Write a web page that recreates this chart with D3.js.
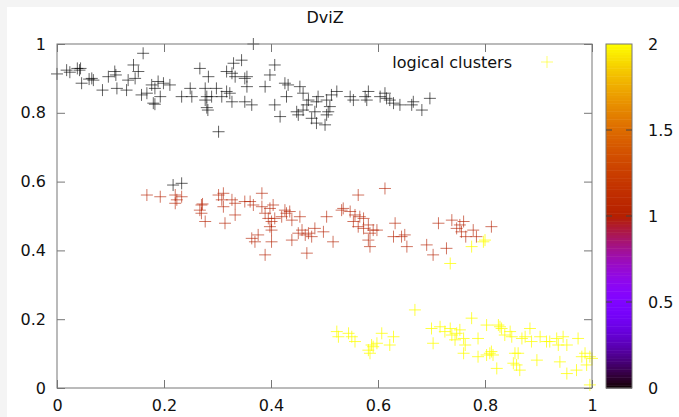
<!DOCTYPE html>
<html>
<head>
<meta charset="utf-8">
<script src="https://cdn.jsdelivr.net/npm/d3@7"></script>
<style>
  body { margin: 0; background: #f4f4f4; }
  text { font-family: "DejaVu Sans", sans-serif; font-size: 16px; fill: #111; }
  .axis path { display: none; }
  .axis line { stroke: #777; }
</style>
</head>
<body>
<svg width="679" height="417"></svg>
<script>
// cluster 0 (black), 1 (red), 2 (yellow): [x, y]
var blackPts = [[0.0,0.913],[0.018,0.924],[0.024,0.918],[0.038,0.929],[0.042,0.924],[0.044,0.929],[0.046,0.886],[0.065,0.9],[0.068,0.895],[0.06,0.898],[0.085,0.866],[0.096,0.905],[0.108,0.92],[0.112,0.871],[0.11,0.91],[0.13,0.866],[0.133,0.895],[0.143,0.939],[0.152,0.92],[0.161,0.973],[0.146,0.9],[0.158,0.852],[0.168,0.857],[0.177,0.881],[0.183,0.871],[0.189,0.891],[0.193,0.847],[0.18,0.828],[0.183,0.825],[0.199,0.886],[0.211,0.881],[0.233,0.847],[0.249,0.871],[0.252,0.847],[0.267,0.929],[0.283,0.905],[0.277,0.871],[0.28,0.847],[0.277,0.837],[0.282,0.808],[0.28,0.815],[0.289,0.847],[0.298,0.871],[0.302,0.745],[0.308,0.847],[0.317,0.862],[0.323,0.857],[0.327,0.832],[0.317,0.92],[0.33,0.944],[0.345,0.953],[0.327,0.915],[0.333,0.905],[0.351,0.9],[0.355,0.876],[0.351,0.832],[0.367,1.0],[0.407,0.939],[0.398,0.91],[0.355,0.905],[0.389,0.876],[0.364,0.823],[0.407,0.823],[0.417,0.789],[0.426,0.886],[0.432,0.881],[0.429,0.847],[0.454,0.876],[0.46,0.857],[0.448,0.803],[0.451,0.794],[0.46,0.808],[0.467,0.823],[0.47,0.837],[0.476,0.784],[0.482,0.803],[0.485,0.832],[0.488,0.847],[0.485,0.77],[0.501,0.765],[0.504,0.794],[0.507,0.803],[0.51,0.818],[0.504,0.837],[0.523,0.862],[0.513,0.852],[0.548,0.847],[0.554,0.837],[0.576,0.847],[0.582,0.862],[0.579,0.837],[0.604,0.847],[0.613,0.857],[0.616,0.842],[0.622,0.837],[0.629,0.828],[0.641,0.823],[0.663,0.823],[0.666,0.832],[0.682,0.808],[0.697,0.842],[0.217,0.59],[0.233,0.595]];

var redPts = [[0.168,0.561],[0.193,0.556],[0.221,0.561],[0.224,0.547],[0.233,0.556],[0.221,0.537],[0.27,0.532],[0.272,0.535],[0.267,0.517],[0.27,0.508],[0.277,0.484],[0.302,0.561],[0.311,0.566],[0.308,0.547],[0.311,0.527],[0.314,0.479],[0.327,0.547],[0.333,0.537],[0.333,0.503],[0.351,0.542],[0.361,0.542],[0.367,0.532],[0.383,0.566],[0.383,0.527],[0.389,0.508],[0.398,0.522],[0.404,0.532],[0.395,0.493],[0.401,0.484],[0.398,0.469],[0.401,0.459],[0.407,0.493],[0.42,0.498],[0.426,0.517],[0.429,0.508],[0.435,0.513],[0.439,0.488],[0.454,0.498],[0.364,0.435],[0.37,0.425],[0.376,0.445],[0.401,0.425],[0.389,0.387],[0.439,0.43],[0.451,0.45],[0.458,0.459],[0.464,0.445],[0.47,0.45],[0.476,0.44],[0.467,0.392],[0.482,0.464],[0.613,0.58],[0.563,0.561],[0.535,0.522],[0.532,0.517],[0.504,0.498],[0.498,0.454],[0.516,0.425],[0.548,0.513],[0.557,0.503],[0.566,0.498],[0.573,0.493],[0.554,0.484],[0.563,0.469],[0.573,0.464],[0.582,0.474],[0.585,0.45],[0.591,0.459],[0.598,0.459],[0.585,0.411],[0.582,0.43],[0.632,0.479],[0.629,0.44],[0.644,0.44],[0.65,0.445],[0.654,0.411],[0.691,0.416],[0.703,0.387],[0.713,0.479],[0.728,0.406],[0.738,0.488],[0.747,0.464],[0.753,0.474],[0.756,0.454],[0.76,0.484],[0.764,0.44],[0.778,0.459],[0.784,0.44],[0.812,0.469]];

var yellowPts = [[0.735,0.362],[0.775,0.411],[0.797,0.425],[0.8,0.43],[0.669,0.227],[0.523,0.164],[0.526,0.149],[0.545,0.159],[0.551,0.149],[0.557,0.135],[0.582,0.11],[0.588,0.125],[0.591,0.12],[0.598,0.13],[0.585,0.101],[0.607,0.159],[0.622,0.125],[0.629,0.149],[0.7,0.173],[0.703,0.13],[0.716,0.178],[0.725,0.164],[0.735,0.173],[0.738,0.154],[0.744,0.14],[0.747,0.159],[0.753,0.169],[0.76,0.144],[0.763,0.125],[0.76,0.101],[0.775,0.203],[0.787,0.144],[0.787,0.091],[0.803,0.183],[0.803,0.096],[0.809,0.101],[0.812,0.106],[0.815,0.096],[0.822,0.057],[0.825,0.183],[0.828,0.178],[0.831,0.173],[0.837,0.154],[0.847,0.164],[0.85,0.149],[0.856,0.101],[0.862,0.101],[0.853,0.072],[0.859,0.067],[0.865,0.052],[0.869,0.144],[0.875,0.149],[0.884,0.173],[0.887,0.135],[0.897,0.081],[0.903,0.149],[0.915,0.135],[0.921,0.135],[0.934,0.144],[0.937,0.125],[0.946,0.149],[0.953,0.125],[0.94,0.076],[0.953,0.042],[0.974,0.144],[0.971,0.052],[0.981,0.091],[0.987,0.101],[0.99,0.067],[0.996,0.091],[1.0,0.086],[0.996,0.009]];

var clusterValues = [0, 1, 2];
var xTicks = [0, 0.2, 0.4, 0.6, 0.8, 1];
var yTicks = [0, 0.2, 0.4, 0.6, 0.8, 1];
var cbTicks = [0, 0.5, 1, 1.5, 2];

var svg = d3.select("svg"),
    margin = {top: 44, right: 87, bottom: 29, left: 57},
    width = +svg.attr("width") - margin.left - margin.right,
    height = +svg.attr("height") - margin.top - margin.bottom;

// page background: thin grey band top/left, white canvas
svg.append("rect").attr("width", 679).attr("height", 417).attr("fill", "#f4f4f4");
svg.append("rect").attr("x", 7).attr("y", 7).attr("width", 672).attr("height", 410).attr("fill", "#fff");

var g = svg.append("g").attr("transform", "translate(" + margin.left + "," + margin.top + ")");

var x = d3.scaleLinear().domain([0, 1]).range([0, width]);
var y = d3.scaleLinear().domain([0, 1]).range([height, 0]);

// gnuplot default palette (rgbformulae 7,5,15), cbrange 0..2
function palette(v) {
  var t = Math.max(0, Math.min(1, v / 2));
  var r = Math.sqrt(t), gg = Math.pow(t, 3), b = Math.max(0, Math.sin(2 * Math.PI * t));
  return d3.rgb(r * 255, gg * 255, b * 255).toString();
}

var fmt = d3.format("~g");

g.append("g")
    .attr("class", "axis")
    .attr("transform", "translate(0," + height + ")")
    .call(d3.axisBottom(x).tickValues(xTicks).tickSize(-8).tickPadding(12).tickFormat(fmt));

g.append("g")
    .attr("class", "axis")
    .call(d3.axisTop(x).tickValues(xTicks).tickSize(-8).tickFormat(""));

g.append("g")
    .attr("class", "axis")
    .call(d3.axisLeft(y).tickValues(yTicks).tickSize(-8).tickPadding(11).tickFormat(fmt));

g.append("g")
    .attr("class", "axis")
    .attr("transform", "translate(" + width + ",0)")
    .call(d3.axisRight(y).tickValues(yTicks).tickSize(-8).tickFormat(""));

g.selectAll(".axis text").style("font-size", "16px").style("font-family", "DejaVu Sans, sans-serif").attr("fill", "#111");

// points
var clusters = [blackPts, redPts, yellowPts];
var s = 6;

clusters.forEach(function(pts, ci) {
  g.append("g")
      .attr("stroke", palette(clusterValues[ci]))
      .attr("stroke-opacity", ci === 2 ? 0.75 : 0.62)
      .attr("fill", "none")
    .selectAll("path")
    .data(pts)
    .enter().append("path")
      .attr("d", function(d) {
        var px = x(d[0]), py = y(d[1]);
        return "M" + (px - s) + "," + py + "H" + (px + s) + "M" + px + "," + (py - s) + "V" + (py + s);
      });
});

g.append("rect")
    .attr("width", width)
    .attr("height", height)
    .attr("fill", "none")
    .attr("stroke", "#777");

// title
svg.append("text")
    .attr("x", 325)
    .attr("y", 23)
    .attr("text-anchor", "middle")
    .text("DviZ");

// legend
var legend = g.append("g").attr("transform", "translate(0,18)");
legend.append("text")
    .attr("x", 455)
    .attr("dy", "0.35em")
    .attr("text-anchor", "end")
    .text("logical clusters");
legend.append("path")
    .attr("d", "M" + (490 - s) + ",0H" + (490 + s) + "M490," + (-s) + "V" + s)
    .attr("stroke", palette(2))
    .attr("stroke-opacity", 0.55);

// colour box
var cb = d3.scaleLinear().domain([0, 2]).range([height, 0]);
var cbg = svg.append("g").attr("transform", "translate(606," + margin.top + ")");
var cbw = 26, steps = 128;

cbg.selectAll("rect.band")
    .data(d3.range(steps))
    .enter().append("rect")
      .attr("class", "band")
      .attr("x", 0)
      .attr("width", cbw)
      .attr("y", function(i) { return cb((i + 1) * 2 / steps); })
      .attr("height", function(i) { return cb(i * 2 / steps) - cb((i + 1) * 2 / steps) + 0.5; })
      .attr("fill", function(i) { return palette((i + 0.5) * 2 / steps); });

cbg.append("rect")
    .attr("width", cbw)
    .attr("height", height)
    .attr("fill", "none")
    .attr("stroke", "#777");

cbg.selectAll("path.cbtick")
    .data(cbTicks.slice(1, -1))
    .enter().append("path")
      .attr("class", "cbtick")
      .attr("d", function(d) { return "M0," + cb(d) + "h6M" + (cbw - 6) + "," + cb(d) + "h6"; })
      .attr("stroke", "#444");

cbg.selectAll("text")
    .data(cbTicks)
    .enter().append("text")
      .attr("x", cbw + 16)
      .attr("y", function(d) { return cb(d); })
      .attr("dy", "0.35em")
      .text(fmt);
</script>
</body>
</html>
